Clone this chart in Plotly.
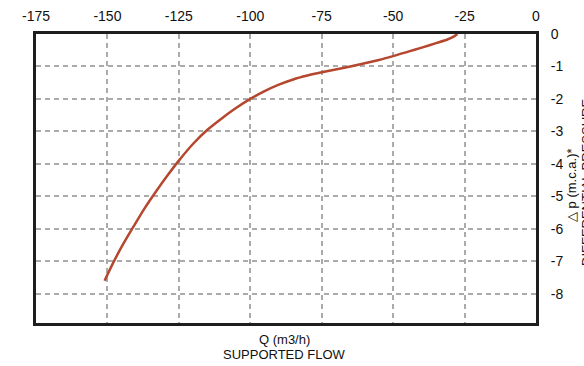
import plotly.graph_objects as go

# Curve data
flow_q = [-151, -148, -145, -141, -137, -133, -129, -125, -120, -115, -110, -105, -100,
          -95, -90, -85, -80, -75, -65, -55, -50, -45, -40, -35, -31, -29, -27.5]
delta_p = [-7.6, -7.05, -6.55, -5.95, -5.37, -4.85, -4.36, -3.9, -3.38, -2.95, -2.6, -2.28, -2.0,
           -1.76, -1.56, -1.4, -1.28, -1.18, -1.0, -0.8, -0.68, -0.55, -0.42, -0.28, -0.17, -0.09, 0]

x_tickvals = [-175, -150, -125, -100, -75, -50, -25, 0]
x_ticktext = ["-175", "-150", "-125", "-100", "-75", "-50", "-25", "0"]
y_tickvals = [0, -1, -2, -3, -4, -5, -6, -7, -8]
y_ticktext = ["0", "-1", "-2", "-3", "-4", "-5", "-6", "-7", "-8"]

FONT = "Liberation Sans, Arial, Helvetica, sans-serif"
TXT = "#111111"

fig = go.Figure()
fig.add_trace(go.Scatter(
    x=flow_q, y=delta_p, mode="lines",
    line=dict(color="#b5472f", width=2.5, shape="spline", smoothing=0.8),
    hoverinfo="skip", showlegend=False,
))

axis_common = dict(
    showline=True, linewidth=3, linecolor="#1e1e1e", mirror=True,
    showgrid=True, gridcolor="#ababab", gridwidth=1.5, griddash="5px,4px",
    zeroline=False, ticks="outside", tickcolor="rgba(0,0,0,0)",
    tickfont=dict(family=FONT, size=14, color=TXT),
    tickmode="array", automargin=False,
)

fig.update_xaxes(side="top", range=[-175, 0], tickvals=x_tickvals, ticktext=x_ticktext,
                 ticklen=4, **axis_common)
fig.update_yaxes(side="right", range=[-8.9, 0], tickvals=y_tickvals, ticktext=y_ticktext,
                 ticklen=9, **axis_common)

W, H = 584, 366
pl, pr, pt, pb = 36, 48, 34, 43
pw, ph = W - pl - pr, H - pt - pb

fig.update_layout(
    width=W, height=H,
    margin=dict(l=pl, r=pr, t=pt, b=pb, autoexpand=False),
    paper_bgcolor="white", plot_bgcolor="white",
    font=dict(family=FONT, color=TXT),
)

def px_x(px):
    return (px - pl) / pw

def px_y(py):
    return (H - pb - py) / ph

title_font = dict(size=13, color=TXT, family=FONT)
fig.add_annotation(text="Q (m3/h)", x=px_x(284), y=px_y(339), xref="paper", yref="paper",
                   showarrow=False, xanchor="center", yanchor="middle", font=title_font)
fig.add_annotation(text="SUPPORTED FLOW", x=px_x(284), y=px_y(354), xref="paper", yref="paper",
                   showarrow=False, xanchor="center", yanchor="middle", font=title_font)
fig.add_annotation(text="△ p (m.c.a.)*", x=px_x(571), y=px_y(185), xref="paper", yref="paper",
                   showarrow=False, xanchor="center", yanchor="middle", textangle=-90,
                   font=title_font)
fig.add_annotation(text="DIFFERENTIAL PRESSURE", x=px_x(586), y=px_y(183), xref="paper", yref="paper",
                   showarrow=False, xanchor="center", yanchor="middle", textangle=-90,
                   font=title_font)

fig.write_html("out.html")
